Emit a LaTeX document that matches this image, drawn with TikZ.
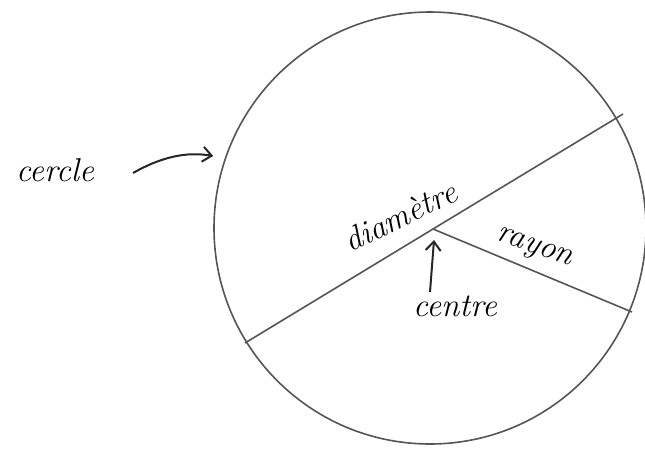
\documentclass[tikz,border=0pt]{standalone}
\usetikzlibrary{arrows.meta}
\definecolor{pen}{HTML}{555555}
\begin{document}
\begin{tikzpicture}[x=1pt,y=-1pt,
  shape line/.style={draw=pen,line width=1.6pt},
  hand/.style={font=\fontsize{33}{38}\selectfont\itshape,text=black,inner sep=0pt},
  pointer/.style={draw=black!85,line width=2pt,-{Straight Barb[length=9pt,width=15pt,line width=2pt]}}]
\useasboundingbox (0,0) rectangle (645,448);
\node[circle,shape line,minimum size=432pt,inner sep=0pt] (C) at (430,228) {};
\coordinate (O) at (433,229);
\coordinate (D1) at (245,343);
\coordinate (D2) at (623,114);
\coordinate (R) at (632,312);
\draw[shape line] (D1) -- (O) -- (D2);
\draw[shape line] (O) -- (R);
\node[hand] (cercle) at (55,170) {cercle};
\coordinate (ca) at (133,173);
\draw[pointer] (ca) .. controls (170,152) and (195,153) .. (C.west |- 0,156);
\node[hand,rotate=26] (diam) at (400,216) {diamètre};
\node[hand,rotate=-19] (rayon) at (534,249) {rayon};
\node[hand] (centre) at (455,306) {centre};
\coordinate (cb) at (430,292);
\draw[pointer] (cb) -- (434,240);
\end{tikzpicture}
\end{document}
